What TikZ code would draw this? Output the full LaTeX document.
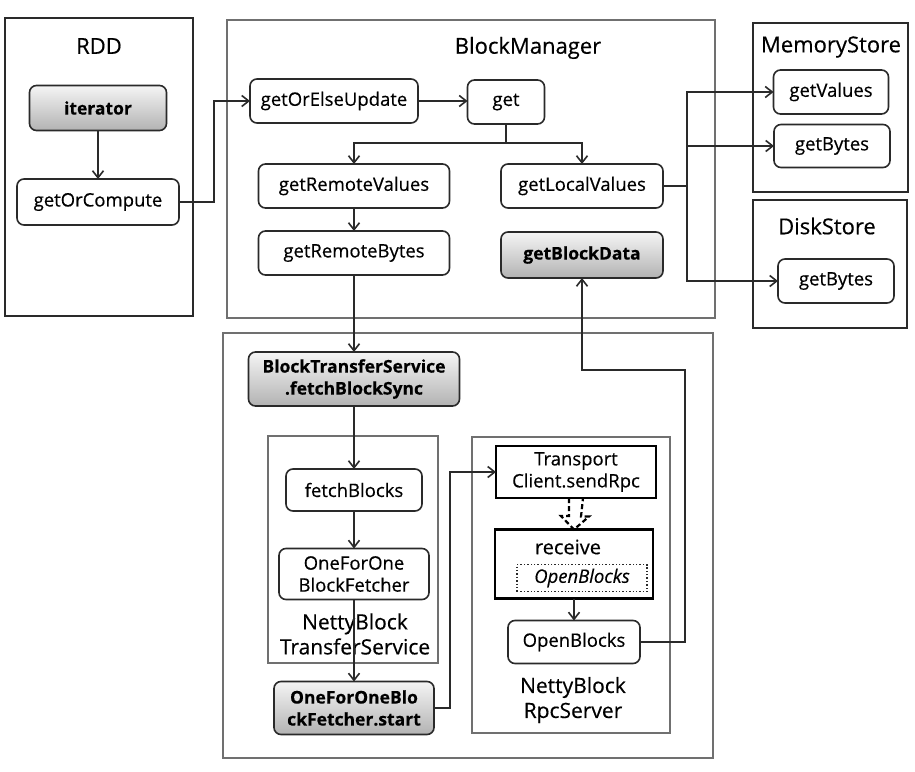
\documentclass[tikz,border=0pt]{standalone}
\usepackage{fontspec}
\setmainfont{Open Sans}[FakeBold=0.4]
\usetikzlibrary{arrows.meta,calc}
\definecolor{ink}{HTML}{2A2A2A}
\definecolor{thin}{HTML}{707070}
\begin{document}
\begin{tikzpicture}[x=1pt,y=-1pt,
  every node/.style={inner sep=0pt,outer sep=0pt,text=black},
  nfont/.style={font=\fontsize{18.5}{22}\selectfont},
  tfont/.style={font=\fontsize{22}{26}\selectfont},
  rbox/.style={draw=ink,line width=1.6pt,rounded corners=7pt,nfont,align=center},
  shbox/.style={rbox,top color=gray!8,bottom color=gray!60,font=\fontsize{17.5}{22}\selectfont\bfseries},
  sqbox/.style={draw=black,line width=2.4pt,nfont,align=center},
  bigc/.style={draw=ink,line width=1.8pt},
  thinc/.style={draw=thin,line width=1.2pt},
  arr/.style={draw=ink,line width=1.7pt,-{Straight Barb[length=7pt,width=11pt,line width=1.6pt]}},
  ln/.style={draw=ink,line width=1.7pt}
]
\useasboundingbox (0,0) rectangle (915,771);
\fill[white] (0,0) rectangle (915,771);

% containers
\draw[bigc] (5,18) rectangle (193,316);
\draw[thinc] (227,20) rectangle (715,318);
\draw[bigc] (753,23) rectangle (908,192);
\draw[bigc] (753,200) rectangle (907,328);
\draw[thinc] (223,333) rectangle (713,758);
\draw[thinc] (268,436) rectangle (438,663);
\draw[thinc] (472,437) rectangle (670,733);

% titles
\node[tfont] (tRDD) at (99,46) {RDD};
\node[tfont] (tBM) at (528,48) {BlockManager};
\node[tfont] (tMS) at (831,47) {MemoryStore};
\node[tfont] (tDS) at (827,226) {DiskStore};
\node[align=center,font=\fontsize{21}{25}\selectfont] (tNBT) at (355,634) {NettyBlock\\TransferService};
\node[align=center,font=\fontsize{21}{25}\selectfont] (tNBR) at (573,700) {NettyBlock\\RpcServer};

% RDD
\node[shbox,minimum width=137pt,minimum height=45pt] (iterator) at (98,108) {iterator};
\node[rbox,minimum width=162pt,minimum height=46pt] (getOrCompute) at (98,202) {getOrCompute};

% BlockManager
\node[rbox,minimum width=168pt,minimum height=44pt] (getOrElseUpdate) at (334,101) {getOrElseUpdate};
\node[rbox,minimum width=77pt,minimum height=44pt] (get) at (506,102) {get};
\node[rbox,minimum width=191pt,minimum height=44pt] (getRemoteValues) at (354,186) {getRemoteValues};
\node[rbox,minimum width=191pt,minimum height=44pt] (getRemoteBytes) at (354,253) {getRemoteBytes};
\node[rbox,minimum width=162pt,minimum height=44pt] (getLocalValues) at (582,186) {getLocalValues};
\node[shbox,minimum width=162pt,minimum height=46pt] (getBlockData) at (582,255) {getBlockData};

% stores
\node[rbox,minimum width=115pt,minimum height=44pt] (getValues) at (831,92) {getValues};
\node[rbox,minimum width=116pt,minimum height=43pt] (getBytesM) at (832,146) {getBytes};
\node[rbox,minimum width=116pt,minimum height=44pt] (getBytesD) at (836,281) {getBytes};

% lower
\node[shbox,minimum width=211pt,minimum height=54pt] (fetchSync) at (354,379) {BlockTransferService\\.fetchBlockSync};
\node[rbox,minimum width=136pt,minimum height=42pt] (fetchBlocks) at (354,490) {fetchBlocks};
\node[rbox,minimum width=150pt,minimum height=51pt] (oneForOne) at (354,574) {OneForOne\\BlockFetcher};
\node[shbox,minimum width=160pt,minimum height=53pt] (start) at (354,708) {OneForOneBlo\\ckFetcher.start};
\node[sqbox,minimum width=160pt,minimum height=52pt] (sendRpc) at (576,472) {Transport\\Client.sendRpc};
\node[sqbox,minimum width=158pt,minimum height=69pt] (receive) at (574,564) {};
\node[font=\fontsize{20}{22}\selectfont] (receiveTxt) at (568,547) {receive};
\node[draw=ink,line width=1.4pt,dotted,minimum width=130pt,minimum height=27pt,nfont] (openInner) at (582,578) {\itshape OpenBlocks};
\node[rbox,minimum width=132pt,minimum height=43pt] (openBlocks) at (574,642) {OpenBlocks};

% connectors
\draw[arr] (iterator.south) -- (getOrCompute.north);
\draw[arr] (getOrCompute.east) -| ([xshift=-36pt]getOrElseUpdate.west) -- (getOrElseUpdate.west);
\draw[arr] (getOrElseUpdate.east) -- (getOrElseUpdate.east -| get.west);
\coordinate (split) at (506,143);
\draw[ln] (get.south) -- (split);
\draw[arr] (split) -| (getRemoteValues.north);
\draw[arr] (split) -| (getLocalValues.north);
\draw[arr] (getRemoteValues.south) -- (getRemoteBytes.north);
\draw[arr] (getRemoteBytes.south) -- (fetchSync.north);
\draw[arr] (fetchSync.south) -- (fetchBlocks.north);
\draw[arr] (fetchBlocks.south) -- (oneForOne.north);
\draw[arr] (oneForOne.south) -- (start.north);
\draw[arr] (start.east) -| ([xshift=-46pt]sendRpc.west) -- (sendRpc.west);
\draw[arr] (receive.south -| openBlocks.north) -- (openBlocks.north);
\coordinate (ret) at (685,370);
\draw[arr] (openBlocks.east) -| (ret) -| (getBlockData.south);
\coordinate (bus) at (687,186);
\draw[ln] (getLocalValues.east) -- (bus);
\draw[arr] (bus) |- (getValues.west);
\draw[arr] (bus) |- (getBytesM.west);
\draw[arr] (bus) |- (getBytesD.west);

% hollow dashed arrow sendRpc -> receive
\draw[black,line width=2.2pt,dash pattern=on 5pt off 3pt,line join=miter]
  ([xshift=-7pt]sendRpc.south) -- ++(0,18) -- ++(-8,0) -- (receive.north) -- ++(15,-13) -- ++(-8,0) -- ([xshift=7pt]sendRpc.south);
\end{tikzpicture}
\end{document}
